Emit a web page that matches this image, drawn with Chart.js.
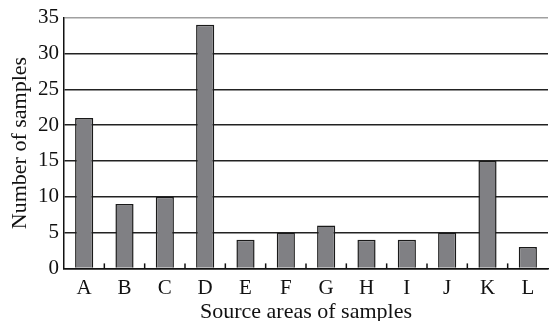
<!DOCTYPE html>
<html><head><meta charset="utf-8">
<script src="https://cdn.jsdelivr.net/npm/chart.js@4/dist/chart.umd.min.js"></script>
<style>html,body{margin:0;padding:0;background:#fff}#w{width:551px;height:321px}</style>
</head><body><div id="w"><canvas id="c"></canvas></div>
<script>
const categories = ['A','B','C','D','E','F','G','H','I','J','K','L'];
const sampleCounts = [21, 9, 10, 34, 4, 5, 6, 4, 4, 5, 15, 3];
const yTicks = [0, 5, 10, 15, 20, 25, 30, 35];

const innerTicks = {
  id: 'innerTicks',
  afterDatasetsDraw(chart) {
    const x = chart.scales.x, y = chart.scales.y, ctx = chart.ctx;
    ctx.save();
    ctx.strokeStyle = '#111';
    ctx.lineWidth = 1.5;
    for (let i = 1; i < categories.length; i++) {
      const px = (x.getPixelForValue(i - 1) + x.getPixelForValue(i)) / 2;
      ctx.beginPath();
      ctx.moveTo(px, y.bottom);
      ctx.lineTo(px, y.bottom - 5);
      ctx.stroke();
    }
    ctx.restore();
  }
};

new Chart(document.getElementById('c'), {
  type: 'bar',
  data: { labels: categories, datasets: [{ data: sampleCounts, backgroundColor: '#808084', borderColor: '#1a1a1a', borderWidth: 1.5, barPercentage: 0.45, categoryPercentage: 1 }] },
  options: {
    responsive: true, maintainAspectRatio: false, animation: false,
    layout: { padding: { top: 10, right: 3, left: 9, bottom: -2 } },
    plugins: { legend: { display: false }, tooltip: { enabled: false } },
    scales: {
      x: {
        grid: { display: false, drawTicks: false },
        border: { color: '#111', width: 1.5 },
        ticks: { color: '#111', font: { family: 'Liberation Serif', size: 21, lineHeight: 0.6 }, padding: 14 },
        title: { display: true, text: 'Source areas of samples', color: '#111', font: { family: 'Liberation Serif', size: 22, lineHeight: 1.0 }, padding: { top: -8, bottom: 0 } }
      },
      y: {
        min: 0, max: 35,
        afterBuildTicks: s => { s.ticks = yTicks.map(v => ({ value: v })); },
        grid: { color: ctx => ctx.tick && ctx.tick.value === 35 ? '#a0a0a0' : '#222', lineWidth: 1.5, drawTicks: false },
        border: { color: '#111', width: 1.5 },
        ticks: { color: '#111', font: { family: 'Liberation Serif', size: 21 }, padding: 5 },
        title: { display: true, text: 'Number of samples', color: '#111', font: { family: 'Liberation Serif', size: 22, lineHeight: 1.0 }, padding: { top: 0, bottom: 2 } }
      }
    }
  },
  plugins: [innerTicks]
});
</script></body></html>
